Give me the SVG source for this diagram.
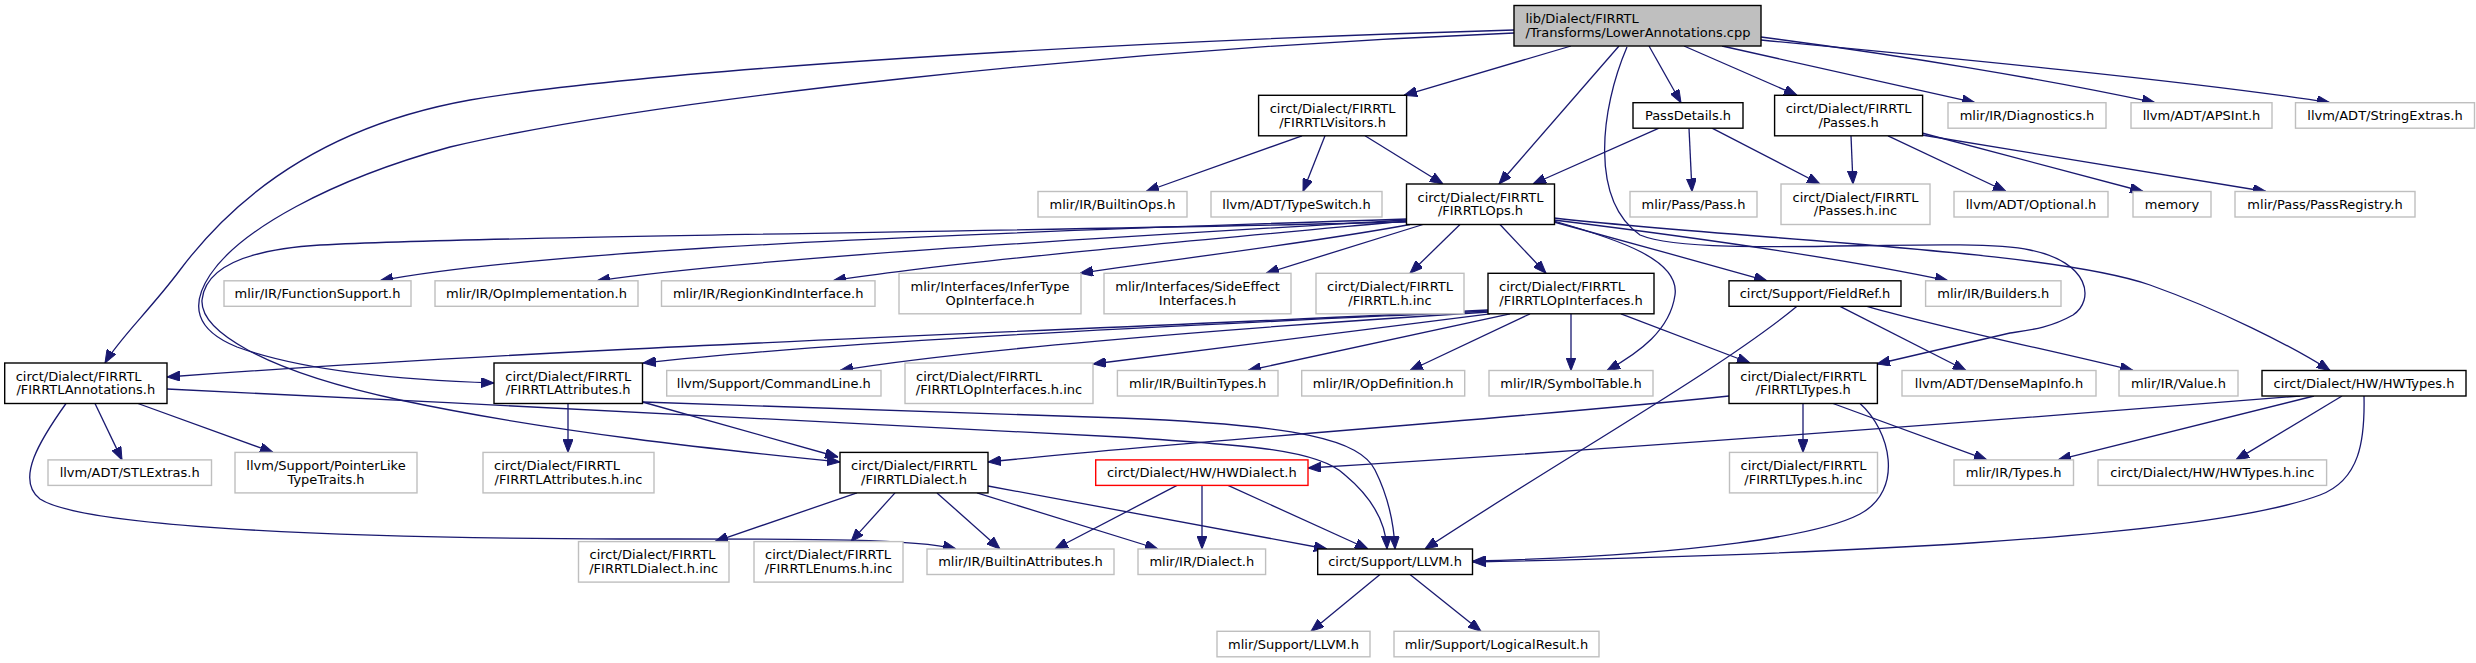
<svg xmlns="http://www.w3.org/2000/svg" width="2476" height="663" viewBox="0 0 2476 663">
<style>
rect{fill:#fff;stroke:#bfbfbf;stroke-width:1.4}
.d rect{stroke:#000}
.r rect{stroke:#ff0000}
.root rect{fill:#bfbfbf;stroke:#000}
text{font-family:"DejaVu Sans","Liberation Sans",sans-serif;font-size:13px;fill:#000}
.m{text-anchor:middle}
#edges path{fill:none;stroke:#191970;stroke-width:1.3;marker-end:url(#a)}
</style>
<defs>
<marker id="a" markerUnits="userSpaceOnUse" markerWidth="13" markerHeight="10" viewBox="0 0 13 10" refX="13" refY="5" orient="auto"><path d="M0,0L13,5L0,10Z" fill="#191970" stroke="#191970"/></marker>
</defs>
<rect x="0" y="0" width="2476" height="663" style="fill:#fff;stroke:none"/>
<g id="edges">
<path d="M1571,46 L1404,95.3"/>
<path d="M1619,46 L1499,184"/>
<path d="M1649,46 L1681,102.7"/>
<path d="M1684,46 L1797,95.3"/>
<path d="M1722,46 L1975,102.7"/>
<path d="M1761,37 C1900,55 2050,80 2155,102.7"/>
<path d="M1761,40 C1950,58 2200,82 2330,102.7"/>
<path d="M1514,30 C1100,42 650,70 470,100 C330,125 240,190 180,270 C150,310 118,340 105,363"/>
<path d="M1514,33 C1100,50 650,100 450,147 C330,180 240,230 210,275 C190,305 195,330 237,347 C300,370 400,380 494,383"/>
<path d="M1627,47 C1600,110 1590,200 1640,235 C1700,260 1960,235 2030,250 C2090,262 2095,300 2073,315 C2050,328 2030,330 2010,333 L1877,364"/>
<path d="M1302,135.8 L1146,191.5"/>
<path d="M1325,135.8 L1303,191.5"/>
<path d="M1365,135.8 L1443,184"/>
<path d="M1659,128.2 L1533,184"/>
<path d="M1689,128.2 L1692,191.5"/>
<path d="M1712,128.2 L1820,184"/>
<path d="M1851,135.8 L1853,184"/>
<path d="M1888,135.8 L2006,191.5"/>
<path d="M1922,133 L2143,191.5"/>
<path d="M1922,135 L2266,191.5"/>
<path d="M1407,219 C1000,232 550,248 380,280.8"/>
<path d="M1407,220 C1100,238 750,258 597,280.8"/>
<path d="M1407,221 C1200,240 950,262 833,280.8"/>
<path d="M1410,224.5 C1300,245 1150,262 1080,273.3"/>
<path d="M1423,224.5 L1266,273.3"/>
<path d="M1460,224.5 L1410,273.3"/>
<path d="M1500,224.5 L1546,273.3"/>
<path d="M1554,222 C1620,240 1700,262 1767,280.8"/>
<path d="M1554,220 C1700,238 1850,260 1948,280.8"/>
<path d="M1554,221 C1620,240 1680,260 1675,295 C1670,330 1640,352 1607,370.5"/>
<path d="M1554,218 C1750,240 2050,250 2150,285 C2220,310 2290,345 2330,370.5"/>
<path d="M1407,222 C1000,232 500,236 320,245 C240,250 205,270 202,300 C200,330 260,370 400,400 C550,432 720,450 840,462"/>
<path d="M1488,310 C1100,330 600,345 167,377"/>
<path d="M1488,311 C1200,325 850,340 643,363"/>
<path d="M1489,312 C1200,330 950,352 840,370.5"/>
<path d="M1490,313.8 L1093,364"/>
<path d="M1510,313.8 L1248,370.5"/>
<path d="M1530,313.8 L1410,370.5"/>
<path d="M1571,313.8 L1571,370.5"/>
<path d="M1621,313.8 L1750,363"/>
<path d="M1797,306.3 C1720,370 1560,460 1425,549"/>
<path d="M1840,306.3 L1966,370.5"/>
<path d="M1867,306.3 C1950,330 2050,350 2133,370.5"/>
<path d="M95,403.5 L122,459.9"/>
<path d="M138,403.5 L273,452.4"/>
<path d="M66,403.5 C40,440 15,480 40,499 C80,525 300,538 620,539 C800,539 910,538 956,549"/>
<path d="M167,389 C500,405 900,425 1120,437 C1250,445 1320,450 1345,475 C1375,500 1386,525 1387,549"/>
<path d="M642.5,402 C850,410 1000,415 1120,418 C1300,425 1360,440 1375,470 C1390,500 1394,525 1395,549"/>
<path d="M568,403.5 L568,452.4"/>
<path d="M642.5,402 L838,457"/>
<path d="M857,492.9 L715,541.6"/>
<path d="M895,492.9 L851,541.6"/>
<path d="M937,492.9 L1000,549"/>
<path d="M977,492.9 L1158,549"/>
<path d="M988,486 L1327,549"/>
<path d="M1177,485.4 L1055,549"/>
<path d="M1202,485.4 L1202,549"/>
<path d="M1228,485.4 L1368,549"/>
<path d="M1729,396 C1500,420 1200,440 988,462"/>
<path d="M1803,403.5 L1803,452.4"/>
<path d="M1833,403.5 L1987,459.9"/>
<path d="M1860,403.5 C1890,430 1905,490 1860,514 C1820,535 1700,555 1473,561"/>
<path d="M2300,396 C2000,420 1600,450 1308,468"/>
<path d="M2314,396 L2058,459.9"/>
<path d="M2342,396 L2236,459.9"/>
<path d="M2364,396 C2365,440 2360,480 2320,495 C2200,540 1800,555 1473,562"/>
<path d="M1380,574.5 L1311,631.3"/>
<path d="M1410,574.5 L1481,631.3"/>
</g>
<g id="lib" class="root"><rect x="1514" y="5.5" width="247" height="40.5"/><text x="1525.5" y="23.2">lib/Dialect/FIRRTL</text><text x="1525.5" y="36.7">/Transforms/LowerAnnotations.cpp</text></g>
<g id="visitors" class="d"><rect x="1258.6" y="95.3" width="148" height="40.5"/><text class="m" x="1332.6" y="113">circt/Dialect/FIRRTL</text><text class="m" x="1332.6" y="126.5">/FIRRTLVisitors.h</text></g>
<g id="passdetails" class="d"><rect x="1633" y="102.7" width="110" height="25.5"/><text class="m" x="1688" y="120">PassDetails.h</text></g>
<g id="passes" class="d"><rect x="1774.6" y="95.3" width="148" height="40.5"/><text class="m" x="1848.6" y="113">circt/Dialect/FIRRTL</text><text class="m" x="1848.6" y="126.5">/Passes.h</text></g>
<g id="diagnostics"><rect x="1948" y="102.7" width="158" height="25.5"/><text class="m" x="2027" y="120">mlir/IR/Diagnostics.h</text></g>
<g id="apsint"><rect x="2131" y="102.7" width="141" height="25.5"/><text class="m" x="2201.5" y="120">llvm/ADT/APSInt.h</text></g>
<g id="stringextras"><rect x="2295.5" y="102.7" width="179" height="25.5"/><text class="m" x="2385" y="120">llvm/ADT/StringExtras.h</text></g>
<g id="builtinops"><rect x="1038" y="191.5" width="149" height="25.5"/><text class="m" x="1112.5" y="208.8">mlir/IR/BuiltinOps.h</text></g>
<g id="typeswitch"><rect x="1211" y="191.5" width="171" height="25.5"/><text class="m" x="1296.5" y="208.8">llvm/ADT/TypeSwitch.h</text></g>
<g id="ops" class="d"><rect x="1406.5" y="184" width="148" height="40.5"/><text class="m" x="1480.5" y="201.8">circt/Dialect/FIRRTL</text><text class="m" x="1480.5" y="215.3">/FIRRTLOps.h</text></g>
<g id="pass"><rect x="1630" y="191.5" width="127" height="25.5"/><text class="m" x="1693.5" y="208.8">mlir/Pass/Pass.h</text></g>
<g id="passesinc"><rect x="1781" y="184" width="149" height="40.5"/><text class="m" x="1855.5" y="201.8">circt/Dialect/FIRRTL</text><text class="m" x="1855.5" y="215.3">/Passes.h.inc</text></g>
<g id="optional"><rect x="1954" y="191.5" width="154" height="25.5"/><text class="m" x="2031" y="208.8">llvm/ADT/Optional.h</text></g>
<g id="memory"><rect x="2133" y="191.5" width="78" height="25.5"/><text class="m" x="2172" y="208.8">memory</text></g>
<g id="passregistry"><rect x="2235" y="191.5" width="180" height="25.5"/><text class="m" x="2325" y="208.8">mlir/Pass/PassRegistry.h</text></g>
<g id="functionsupport"><rect x="224" y="280.8" width="187" height="25.5"/><text class="m" x="317.5" y="298">mlir/IR/FunctionSupport.h</text></g>
<g id="opimplementation"><rect x="435" y="280.8" width="203" height="25.5"/><text class="m" x="536.5" y="298">mlir/IR/OpImplementation.h</text></g>
<g id="regionkind"><rect x="661.5" y="280.8" width="213.5" height="25.5"/><text class="m" x="768.2" y="298">mlir/IR/RegionKindInterface.h</text></g>
<g id="infertype"><rect x="899" y="273.3" width="182" height="40.5"/><text class="m" x="990" y="291">mlir/Interfaces/InferType</text><text class="m" x="990" y="304.5">OpInterface.h</text></g>
<g id="sideeffect"><rect x="1104" y="273.3" width="187" height="40.5"/><text class="m" x="1197.5" y="291">mlir/Interfaces/SideEffect</text><text class="m" x="1197.5" y="304.5">Interfaces.h</text></g>
<g id="firrtlhinc"><rect x="1316" y="273.3" width="148" height="40.5"/><text class="m" x="1390" y="291">circt/Dialect/FIRRTL</text><text class="m" x="1390" y="304.5">/FIRRTL.h.inc</text></g>
<g id="opinterfaces" class="d"><rect x="1488" y="273.3" width="166" height="40.5"/><text x="1499" y="291">circt/Dialect/FIRRTL</text><text class="m" x="1571" y="304.5">/FIRRTLOpInterfaces.h</text></g>
<g id="fieldref" class="d"><rect x="1729" y="280.8" width="172" height="25.5"/><text class="m" x="1815" y="298">circt/Support/FieldRef.h</text></g>
<g id="builders"><rect x="1925.6" y="280.8" width="135.4" height="25.5"/><text class="m" x="1993.3" y="298">mlir/IR/Builders.h</text></g>
<g id="annotations" class="d"><rect x="4.7" y="363" width="162.3" height="40.5"/><text x="15.7" y="380.7">circt/Dialect/FIRRTL</text><text class="m" x="85.8" y="394.2">/FIRRTLAnnotations.h</text></g>
<g id="attributes" class="d"><rect x="494" y="363" width="148.5" height="40.5"/><text class="m" x="568.2" y="380.7">circt/Dialect/FIRRTL</text><text class="m" x="568.2" y="394.2">/FIRRTLAttributes.h</text></g>
<g id="commandline"><rect x="666.7" y="370.5" width="214.3" height="25.5"/><text class="m" x="773.8" y="387.7">llvm/Support/CommandLine.h</text></g>
<g id="opinterfacesinc"><rect x="905" y="363" width="188" height="40.5"/><text x="916" y="380.7">circt/Dialect/FIRRTL</text><text class="m" x="999" y="394.2">/FIRRTLOpInterfaces.h.inc</text></g>
<g id="builtintypes"><rect x="1117.4" y="370.5" width="160.6" height="25.5"/><text class="m" x="1197.7" y="387.7">mlir/IR/BuiltinTypes.h</text></g>
<g id="opdefinition"><rect x="1301.7" y="370.5" width="163" height="25.5"/><text class="m" x="1383.2" y="387.7">mlir/IR/OpDefinition.h</text></g>
<g id="symboltable"><rect x="1489" y="370.5" width="164" height="25.5"/><text class="m" x="1571" y="387.7">mlir/IR/SymbolTable.h</text></g>
<g id="firrtltypes" class="d"><rect x="1729" y="363" width="148.4" height="40.5"/><text class="m" x="1803.2" y="380.7">circt/Dialect/FIRRTL</text><text class="m" x="1803.2" y="394.2">/FIRRTLTypes.h</text></g>
<g id="densemapinfo"><rect x="1902" y="370.5" width="194" height="25.5"/><text class="m" x="1999" y="387.7">llvm/ADT/DenseMapInfo.h</text></g>
<g id="value"><rect x="2119" y="370.5" width="119" height="25.5"/><text class="m" x="2178.5" y="387.7">mlir/IR/Value.h</text></g>
<g id="hwtypes" class="d"><rect x="2262" y="370.5" width="204" height="25.5"/><text class="m" x="2364" y="387.7">circt/Dialect/HW/HWTypes.h</text></g>
<g id="stlextras"><rect x="48" y="459.9" width="163.5" height="25.5"/><text class="m" x="129.7" y="477.1">llvm/ADT/STLExtras.h</text></g>
<g id="pointerlike"><rect x="235" y="452.4" width="182" height="40.5"/><text class="m" x="326" y="470.1">llvm/Support/PointerLike</text><text class="m" x="326" y="483.6">TypeTraits.h</text></g>
<g id="attributesinc"><rect x="483" y="452.4" width="171" height="40.5"/><text x="494" y="470.1">circt/Dialect/FIRRTL</text><text class="m" x="568.5" y="483.6">/FIRRTLAttributes.h.inc</text></g>
<g id="firrtldialect" class="d"><rect x="840" y="452.4" width="148" height="40.5"/><text class="m" x="914" y="470.1">circt/Dialect/FIRRTL</text><text class="m" x="914" y="483.6">/FIRRTLDialect.h</text></g>
<g id="hwdialect" class="r"><rect x="1095.7" y="459.9" width="212.3" height="25.5"/><text class="m" x="1201.8" y="477.1">circt/Dialect/HW/HWDialect.h</text></g>
<g id="typesinc"><rect x="1729.5" y="452.4" width="148" height="40.5"/><text class="m" x="1803.5" y="470.1">circt/Dialect/FIRRTL</text><text class="m" x="1803.5" y="483.6">/FIRRTLTypes.h.inc</text></g>
<g id="mlirtypes"><rect x="1954" y="459.9" width="119.5" height="25.5"/><text class="m" x="2013.7" y="477.1">mlir/IR/Types.h</text></g>
<g id="hwtypesinc"><rect x="2098" y="459.9" width="228.6" height="25.5"/><text class="m" x="2212.3" y="477.1">circt/Dialect/HW/HWTypes.h.inc</text></g>
<g id="dialectinc"><rect x="578.5" y="541.6" width="150.5" height="40.5"/><text x="589.5" y="559.3">circt/Dialect/FIRRTL</text><text class="m" x="653.7" y="572.8">/FIRRTLDialect.h.inc</text></g>
<g id="enumsinc"><rect x="754" y="541.6" width="149" height="40.5"/><text x="765" y="559.3">circt/Dialect/FIRRTL</text><text class="m" x="828.5" y="572.8">/FIRRTLEnums.h.inc</text></g>
<g id="builtinattributes"><rect x="927" y="549" width="187" height="25.5"/><text class="m" x="1020.5" y="566.2">mlir/IR/BuiltinAttributes.h</text></g>
<g id="mlirdialect"><rect x="1138" y="549" width="127.6" height="25.5"/><text class="m" x="1201.8" y="566.2">mlir/IR/Dialect.h</text></g>
<g id="llvm" class="d"><rect x="1317.7" y="549" width="154.8" height="25.5"/><text class="m" x="1395.1" y="566.2">circt/Support/LLVM.h</text></g>
<g id="mlirllvm"><rect x="1217" y="631.3" width="153" height="25.5"/><text class="m" x="1293.5" y="648.5">mlir/Support/LLVM.h</text></g>
<g id="logicalresult"><rect x="1394" y="631.3" width="205" height="25.5"/><text class="m" x="1496.5" y="648.5">mlir/Support/LogicalResult.h</text></g>
</svg>
